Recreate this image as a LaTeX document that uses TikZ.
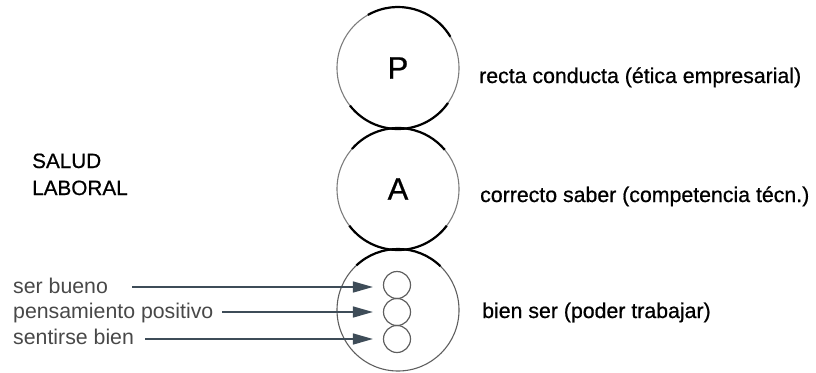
\documentclass[tikz,border=0pt]{standalone}
\usepackage{fontspec}
\setmainfont{Liberation Sans}
\newfontfamily\inkfont[FakeBold=0.7]{Liberation Sans}
\usetikzlibrary{arrows.meta}
\definecolor{ringgray}{RGB}{125,125,125}
\definecolor{softgray}{RGB}{95,95,95}
\definecolor{labelgray}{RGB}{72,72,72}
\definecolor{arrowslate}{RGB}{62,76,88}
\begin{document}
\begin{tikzpicture}[x=1pt,y=1pt,
  bigc/.style={circle,draw=ringgray,line width=1.1pt,minimum size=122pt,inner sep=0pt,
    font=\inkfont\fontsize{31}{31}\selectfont},
  smallc/.style={circle,draw=softgray,line width=1.2pt,minimum size=27pt,inner sep=0pt},
  rim/.style={line width=2.2pt,black},
  rlabel/.style={anchor=base west,inner sep=0pt,font=\inkfont\fontsize{21.3}{26}\selectfont},
  hlabel/.style={anchor=base west,inner sep=0pt,font=\inkfont\fontsize{20.7}{27}\selectfont},
  llabel/.style={anchor=base west,inner sep=0pt,text=labelgray,font=\fontsize{21.3}{26}\selectfont},
  feed/.style={draw=arrowslate,line width=1.5pt,-{Triangle[length=20pt,width=11pt]},shorten >=10pt}]
\useasboundingbox (0,0) rectangle (816,-372);

% the three stacked circles
\node[bigc] (P) at (398,-68) {P};
\node[bigc] (A) at (398,-189) {A};
\node[bigc,draw=softgray] (B) at (398,-310) {};

% heavier rims where the circles meet
\draw[rim] ([shift={(119.6:61)}]P.center) arc[start angle=119.6,end angle=30.8,radius=61];
\draw[rim] ([shift={(218:61)}]P.center) arc[start angle=218,end angle=325,radius=61];
\draw[rim] ([shift={(139:61)}]A.center) arc[start angle=139,end angle=40,radius=61];
\draw[rim] ([shift={(217:61)}]A.center) arc[start angle=217,end angle=323,radius=61];
\draw[rim] ([shift={(133:61)}]B.center) arc[start angle=133,end angle=46,radius=61];

% three small circles inside the lower circle
\node[smallc] (s1) at (397,-285) {};
\node[smallc] (s2) at (397,-312) {};
\node[smallc] (s3) at (397,-339) {};

% right-hand descriptions
\node[rlabel] (tP) at (479,-83) {recta conducta (ética empresarial)};
\node[rlabel] (tA) at (480,-202) {correcto saber (competencia técn.)};
\node[rlabel] (tB) at (482,-318) {bien ser (poder trabajar)};

% left heading
\node[hlabel] (h1) at (32,-168) {SALUD};
\node[hlabel] (h2) at (32,-195) {LABORAL};

% inputs to the small circles
\node[llabel] (l1) at (13,-293) {ser bueno};
\node[llabel] (l2) at (13,-318) {pensamiento positivo};
\node[llabel] (l3) at (13,-344) {sentirse bien};
\coordinate (a1) at (132,-287);
\coordinate (a2) at (222,-312);
\coordinate (a3) at (145,-339);
\draw[feed] (a1) -- (a1 -| s1.west);
\draw[feed] (a2) -- (a2 -| s2.west);
\draw[feed] (a3) -- (a3 -| s3.west);
\end{tikzpicture}
\end{document}
